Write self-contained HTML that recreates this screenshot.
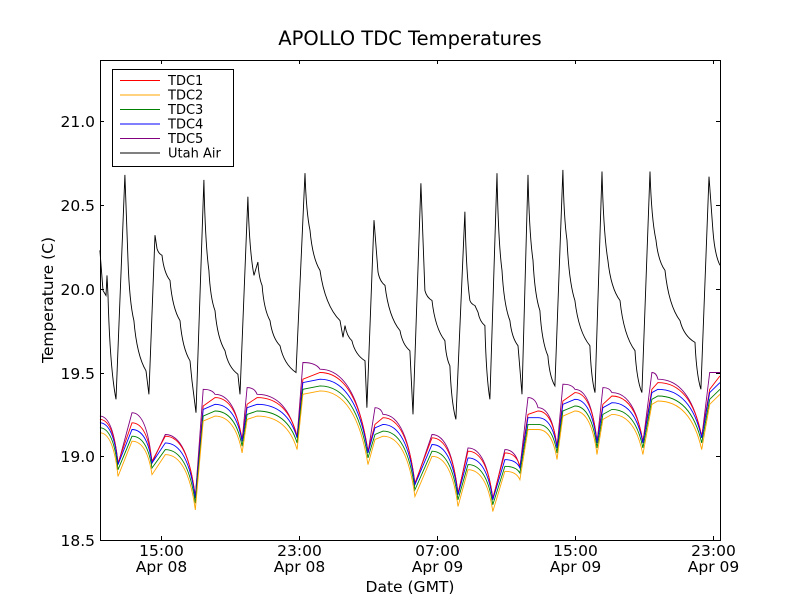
<!DOCTYPE html>
<html><head><meta charset="utf-8"><style>
body{margin:0;background:#fff}
svg{display:block;font-family:"DejaVu Sans","Liberation Sans",sans-serif}
</style></head><body>
<svg id="chart" width="800" height="600">
<rect width="800" height="600" fill="#fff"/>
<text x="410" y="45" font-size="19.5" text-anchor="middle">APOLLO TDC Temperatures</text>
<text transform="translate(53,300) rotate(-90)" font-size="15.5" text-anchor="middle">Temperature (C)</text>
<text x="410" y="592" font-size="15.5" text-anchor="middle">Date (GMT)</text>
<g id="plot"></g>
<g id="axes"></g>
<g>
<rect x="112.5" y="69.5" width="121" height="97" fill="#fff" stroke="#000"/>
<g id="legend-items"></g>
</g>
</svg>
<script>
const tdcTimes=[11.46,12.51,13.32,14.48,15.25,16.99,17.45,18.13,19.70,19.99,20.57,22.89,23.23,24.22,27.00,27.41,27.87,29.72,30.71,32.22,32.80,34.24,34.94,35.81,36.28,36.86,37.96,38.30,39.00,40.28,40.62,41.14,42.94,43.46,43.81,46.35,46.81,47.41];
const tdc1=[19.22,18.96,19.20,18.97,19.12,18.76,19.30,19.35,19.10,19.31,19.35,19.12,19.46,19.50,19.03,19.19,19.23,18.84,19.11,18.78,19.03,18.75,19.02,18.94,19.25,19.27,19.06,19.33,19.38,19.09,19.31,19.36,19.09,19.40,19.44,19.12,19.40,19.48];
const tdc2=[19.14,18.88,19.09,18.89,19.01,18.68,19.21,19.24,19.02,19.22,19.24,19.04,19.37,19.39,18.95,19.10,19.12,18.76,19.00,18.70,18.92,18.67,18.91,18.86,19.16,19.16,18.98,19.24,19.27,19.01,19.22,19.25,19.01,19.31,19.33,19.04,19.31,19.37];
const tdc3=[19.17,18.92,19.12,18.93,19.04,18.72,19.24,19.27,19.06,19.25,19.27,19.08,19.40,19.42,18.99,19.13,19.15,18.80,19.03,18.74,18.95,18.71,18.94,18.90,19.19,19.19,19.02,19.27,19.30,19.05,19.25,19.28,19.05,19.34,19.36,19.08,19.34,19.40];
const tdc4=[19.20,18.95,19.16,18.96,19.08,18.75,19.28,19.31,19.09,19.29,19.31,19.11,19.44,19.46,19.02,19.17,19.19,18.83,19.07,18.77,18.99,18.74,18.98,18.93,19.23,19.23,19.05,19.31,19.34,19.08,19.29,19.32,19.08,19.38,19.40,19.11,19.38,19.44];
const tdc5=[19.24,18.95,19.26,18.96,19.13,18.75,19.40,19.37,19.09,19.41,19.37,19.11,19.56,19.52,19.02,19.29,19.25,18.83,19.13,18.77,19.05,18.74,19.04,18.93,19.35,19.29,19.05,19.43,19.40,19.08,19.41,19.38,19.08,19.50,19.46,19.11,19.50,19.50];
const airTimes=[11.46,11.64,11.81,11.87,11.93,12.39,12.91,13.09,13.43,14.13,14.30,14.65,14.77,15.06,15.52,16.10,16.68,16.80,17.03,17.49,17.78,18.13,18.71,19.46,19.58,20.04,20.39,20.62,20.86,21.32,21.90,22.83,23.35,23.64,24.22,25.38,25.55,25.67,26.07,26.83,26.94,27.35,27.58,27.99,28.86,29.43,29.61,30.07,30.30,30.71,31.46,31.75,32.10,32.62,32.91,33.20,33.38,33.78,34.07,34.48,34.77,35.23,35.70,35.93,36.28,36.57,36.97,37.43,37.84,38.30,38.54,39.00,39.87,40.16,40.57,40.91,41.61,42.48,42.88,43.35,43.70,44.22,45.09,45.96,46.30,46.77,47.00,47.41];
const airTemps=[20.23,19.99,19.96,20.08,19.96,19.34,20.68,20.17,19.81,19.51,19.37,20.32,20.24,20.20,20.05,19.81,19.57,19.45,19.26,20.65,20.11,19.87,19.63,19.49,19.37,20.55,20.08,20.16,20.02,19.81,19.66,19.50,20.69,20.35,20.11,19.81,19.71,19.78,19.69,19.57,19.29,20.41,20.10,20.02,19.75,19.63,19.25,20.63,19.99,19.93,19.69,19.54,19.22,20.46,19.93,19.90,19.86,19.78,19.34,20.69,20.11,19.81,19.66,19.37,20.68,20.17,19.87,19.60,19.42,20.71,20.29,19.93,19.66,19.38,20.70,20.17,19.93,19.63,19.38,20.70,20.29,20.11,19.81,19.68,19.40,20.67,20.35,20.14];
const yTicks=[18.5,19.0,19.5,20.0,20.5,21.0];
const xTickHours=[15,23,31,39,47];
const xTickTimes=["15:00","23:00","07:00","15:00","23:00"];
const xTickDates=["Apr 08","Apr 08","Apr 09","Apr 09","Apr 09"];
const seriesNames=["TDC1","TDC2","TDC3","TDC4","TDC5","Utah Air"];
const seriesColors=["#ff0000","#ffa500","#008000","#0000ff","#800080","#000000"];

const L=100,R=720,T=60,B=540,XMIN=11.464,XMAX=47.41,YMIN=18.5,YMAX=21.366;
const xs=h=>L+(h-XMIN)/(XMAX-XMIN)*(R-L);
const ys=v=>B-(v-YMIN)/(YMAX-YMIN)*(B-T);
const NS="http://www.w3.org/2000/svg";
function mk(tag,attrs,parent){const e=document.createElementNS(NS,tag);for(const k in attrs)e.setAttribute(k,attrs[k]);parent.appendChild(e);return e;}
const plot=document.getElementById('plot');
function smoothPath(t,v){let d=`M${xs(t[0]).toFixed(1)},${ys(v[0]).toFixed(1)}`;
 for(let i=1;i<t.length;i++){const x0=xs(t[i-1]),y0=ys(v[i-1]),x1=xs(t[i]),y1=ys(v[i]);
  if(v[i]<v[i-1]) d+=` Q${(x0+0.75*(x1-x0)).toFixed(1)},${y0.toFixed(1)} ${x1.toFixed(1)},${y1.toFixed(1)}`;
  else d+=` L${x1.toFixed(1)},${y1.toFixed(1)}`;}
 return d;}
function airPath(t,v){let d=`M${xs(t[0]).toFixed(1)},${ys(v[0]).toFixed(1)}`;
 for(let i=1;i<t.length;i++){const x0=xs(t[i-1]),y0=ys(v[i-1]),x1=xs(t[i]),y1=ys(v[i]);
  if(v[i]<v[i-1]&&x1-x0>4) d+=` Q${(x0+0.25*(x1-x0)).toFixed(1)},${(y0+0.7*(y1-y0)).toFixed(1)} ${x1.toFixed(1)},${y1.toFixed(1)}`;
  else d+=` L${x1.toFixed(1)},${y1.toFixed(1)}`;}
 return d;}
const tdcs=[tdc1,tdc2,tdc3,tdc4,tdc5];
const drawOrder=[4,0,3,2,1];
for(const i of drawOrder){
 const p=mk('path',{d:smoothPath(tdcTimes,tdcs[i]),fill:'none',stroke:seriesColors[i],'stroke-width':0.9},plot);
 
 
}
{const p=mk('path',{d:airPath(airTimes,airTemps),fill:'none',stroke:'#000','stroke-width':0.9},plot);
 
 }

const axes=document.getElementById('axes');
const frame=mk('rect',{x:L+.5,y:T+.5,width:R-L,height:B-T,fill:'none',stroke:'#000'},axes);


yTicks.forEach(v=>{const y=Math.round(ys(v))+.5;
 mk('line',{x1:L,x2:L+4,y1:y,y2:y,stroke:'#000'},axes);
 mk('line',{x1:R-4,x2:R,y1:y,y2:y,stroke:'#000'},axes);
 const t=mk('text',{x:L-5,y:y+5.5,'font-size':15.5,'text-anchor':'end'},axes);t.textContent=v.toFixed(1);
 
 });
xTickHours.forEach((h,i)=>{const x=Math.round(xs(h))+.5;
 mk('line',{x1:x,x2:x,y1:B,y2:B-4,stroke:'#000'},axes);
 mk('line',{x1:x,x2:x,y1:T,y2:T+4,stroke:'#000'},axes);
 const t=mk('text',{x:x,y:556,'font-size':15.5,'text-anchor':'middle'},axes);t.textContent=xTickTimes[i];
 
 
 const t2=mk('text',{x:x,y:572,'font-size':15.5,'text-anchor':'middle'},axes);t2.textContent=xTickDates[i];
 
 });

const lg=document.getElementById('legend-items');
seriesNames.forEach((n,i)=>{const y=80.5+i*14.5;
 const g=mk('g',{},lg);
 
 
 mk('line',{x1:120,x2:160,y1:y,y2:y,stroke:seriesColors[i],'stroke-width':1},g);
 const t=mk('text',{x:168,y:y+4.5,'font-size':13},g);t.textContent=n;});
</script>
</body></html>
